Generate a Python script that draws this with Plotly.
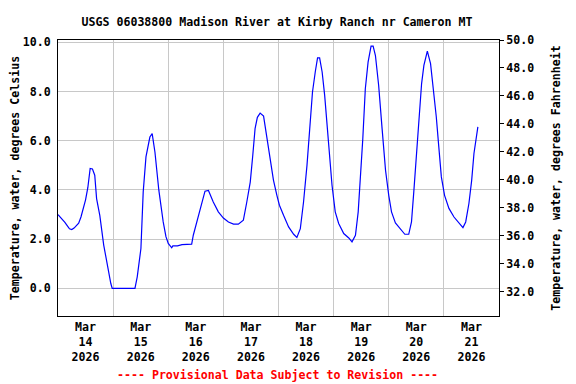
import datetime as dt
import plotly.graph_objects as go

# ---- data ----
title_text = "USGS 06038800 Madison River at Kirby Ranch nr Cameron MT"
start = dt.datetime(2026, 3, 14, 0, 0)
hours = [0, 1, 2, 3, 4, 5, 6, 7, 8, 9, 10, 11, 12, 13, 14, 15, 16, 16.8, 18.2, 19.9,
         21, 21.8, 23, 23.6, 33.5, 34.5, 36.1, 37.1, 38.3, 40, 41, 42.2, 43.9, 45.8,
         47, 48, 49.5, 50, 52, 54, 56, 58.2, 58.9, 61.1, 62.6, 64, 65.5, 67.6, 69.8,
         72, 74.2, 76.4, 78.5, 80.7, 82.2, 83.7, 84.8, 85.8, 86.8, 88, 89.5, 90.9,
         92.4, 93.8, 95.3, 96.4, 98.2, 100.4, 102.6, 104, 105.5, 106.9, 108.4, 109.5,
         110.8, 112, 113, 113.9, 115, 116.1, 117.1, 118.1, 119.3, 120.7, 122.2, 124.4,
         126.6, 128, 129.5, 130.7, 131.7, 132.7, 133.8, 135, 136.3, 137.2, 138.2,
         139.6, 141.1, 142.6, 144, 145.2, 146.9, 149.1, 151, 152.7, 153.9, 154.9, 156,
         157.1, 158.3, 159.3, 160.8, 162.2, 163.6, 164.7, 165.8, 166.9, 168.3, 170.2,
         172.4, 174.5, 176.3, 177.5, 178.9, 180.1, 181.1, 182.8]
temp_c = [3.0, 2.9, 2.8, 2.68, 2.55, 2.42, 2.39, 2.45, 2.55, 2.65, 2.9, 3.2, 3.6, 4.1,
          4.87, 4.85, 4.6, 3.65, 2.97, 1.76, 1.15, 0.74, 0.2, 0.0, 0.0, 0.47, 1.62,
          3.92, 5.34, 6.15, 6.29, 5.54, 3.99, 2.7, 2.1, 1.83, 1.65, 1.73, 1.73, 1.78,
          1.78, 1.8, 2.16, 2.97, 3.51, 3.95, 3.98, 3.51, 3.11, 2.86, 2.7, 2.61, 2.61,
          2.77, 3.51, 4.32, 5.41, 6.49, 6.95, 7.12, 7.0, 6.15, 5.34, 4.4, 3.78, 3.38,
          2.97, 2.5, 2.2, 2.07, 2.43, 3.51, 5.0, 6.35, 7.98, 8.79, 9.36, 9.36, 8.79,
          7.84, 6.62, 5.41, 4.19, 3.11, 2.64, 2.23, 2.05, 1.89, 2.16, 3.11, 4.46, 6.08,
          8.11, 9.19, 9.84, 9.84, 9.46, 8.25, 6.49, 4.8, 3.78, 3.11, 2.66, 2.39, 2.2,
          2.2, 2.7, 3.92, 5.48, 6.83, 8.32, 9.06, 9.64, 9.13, 8.04, 6.96, 5.74, 4.53,
          3.78, 3.25, 2.9, 2.66, 2.47, 2.7, 3.45, 4.39, 5.48, 6.56]
left_ticks = [0, 2, 4, 6, 8, 10]
right_ticks = [32, 34, 36, 38, 40, 42, 44, 46, 48, 50]
x_start = "2026-03-14 00:00"
x_end = "2026-03-22 00:00"

times = [start + dt.timedelta(hours=h) for h in hours]
temp_f = [c * 1.8 + 32 for c in temp_c]

FONT = "DejaVu Sans Mono"
FS = 11.6

fig = go.Figure()
fig.add_trace(go.Scatter(x=times, y=temp_c, mode="lines",
                         line=dict(color="#0000FF", width=1.2),
                         showlegend=False, hoverinfo="skip"))
fig.add_trace(go.Scatter(x=times, y=temp_f, mode="lines", yaxis="y2",
                         line=dict(color="rgba(0,0,0,0)", width=0),
                         showlegend=False, hoverinfo="skip"))

fig.update_layout(
    width=576, height=384,
    paper_bgcolor="white", plot_bgcolor="white",
    margin=dict(l=58, r=77, t=40, b=68),
    font=dict(family=FONT, size=FS, color="black", weight="bold"),
    title=dict(text=title_text, x=277 / 576, xanchor="center", xref="container",
               y=1 - 22 / 384, yanchor="middle", yref="container",
               font=dict(family=FONT, size=FS, color="black", weight="bold")),
    xaxis=dict(
        range=[x_start, x_end], type="date",
        tick0=x_start, dtick=86400000, ticklabelmode="period",
        tickformat="%b<br>%d<br>%Y",
        showgrid=True, gridcolor="#C8C8C8", gridwidth=1,
        showline=True, linecolor="black", linewidth=1, mirror=True,
        ticks="", zeroline=False,
    ),
    yaxis=dict(
        range=[-1.12, 10.09], tickvals=left_ticks, tickformat=".1f",
        showgrid=True, gridcolor="#C8C8C8", gridwidth=1,
        showline=True, linecolor="black", linewidth=1, mirror=True,
        ticks="outside", ticklen=4, tickcolor="rgba(0,0,0,0)", zeroline=False,
        title=dict(text="Temperature, water, degrees Celsius", standoff=0,
                   font=dict(family=FONT, size=FS, weight="bold")),
    ),
    yaxis2=dict(
        overlaying="y", side="right", anchor="x",
        range=[30.26, 50.0], tickvals=right_ticks, tickformat=".1f",
        showgrid=False, showline=True, linecolor="black", linewidth=1,
        ticks="outside", ticklen=4, tickcolor="black", zeroline=False,
        title=dict(text="Temperature, water, degrees Fahrenheit", standoff=18,
                   font=dict(family=FONT, size=FS, weight="bold")),
    ),
    annotations=[dict(
        text="---- Provisional Data Subject to Revision ----",
        xref="paper", yref="paper",
        x=(277.5 - 58) / (499 - 58), y=-(375 - 316) / (316 - 40),
        xanchor="center", yanchor="middle", showarrow=False,
        font=dict(family=FONT, size=FS, color="#FF0000", weight="bold"),
    )],
)

fig.write_html("out.html", config={"displayModeBar": False, "staticPlot": True},
               post_script="document.body.style.margin='0';")
